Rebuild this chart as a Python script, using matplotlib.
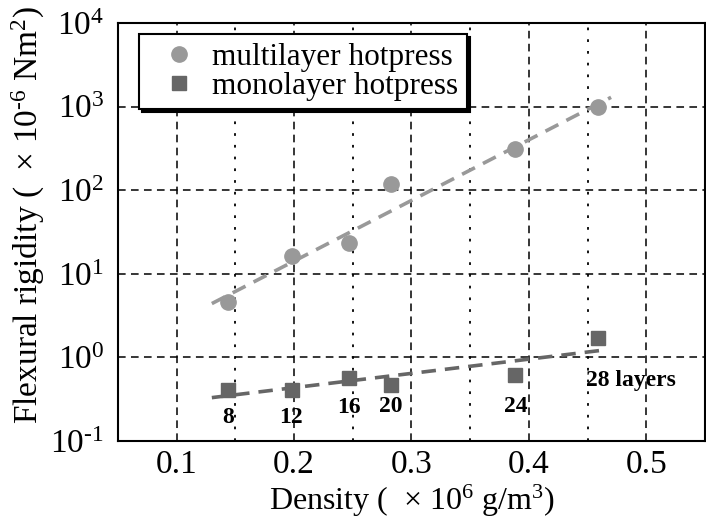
import numpy as np
import matplotlib.pyplot as plt
from matplotlib.ticker import MultipleLocator, NullLocator, LogLocator, FuncFormatter

plt.rcParams['font.family'] = ['Liberation Serif', 'DejaVu Serif']
plt.rcParams['mathtext.fontset'] = 'custom'
plt.rcParams['mathtext.rm'] = 'Liberation Serif'
plt.rcParams['mathtext.it'] = 'Liberation Serif:italic'
plt.rcParams['mathtext.bf'] = 'Liberation Serif:bold'

# density (x 10^6 g/m^3)
density = [0.144, 0.198, 0.247, 0.283, 0.388, 0.459]
# flexural rigidity (x 10^-6 Nm^2)
multi = [4.6, 16.5, 23.5, 120, 315, 1000]
mono = [0.41, 0.41, 0.57, 0.47, 0.61, 1.7]
layers = ['8', '12', '16', '20', '24', '28 layers']
label_x = [0.144, 0.197, 0.247, 0.282, 0.389, 0.487]
label_y = [0.19, 0.19, 0.25, 0.26, 0.26, 0.53]

# fitted trend lines (end points)
fit_x = [0.13, 0.47]
fit_multi = [4.4, 1290]
fit_mono_x = [0.13, 0.461]
fit_mono = [0.33, 1.21]


def log_fmt(v, pos):
    e = int(round(np.log10(v)))
    s = str(e).replace('-', r'\text{-}')
    return r'$10^{%s}$' % s


fig = plt.figure(figsize=(7.06, 5.21), dpi=100)
ax = fig.add_axes([0.167, 0.1536, 0.8316, 0.8023])
ax.set_yscale('log')
ax.set_xlim(0.05, 0.55)
ax.set_ylim(0.1, 1e4)

ax.xaxis.set_major_locator(MultipleLocator(0.1))
ax.xaxis.set_minor_locator(MultipleLocator(0.05))
ax.yaxis.set_major_locator(LogLocator(base=10, numticks=10))
ax.yaxis.set_minor_locator(NullLocator())
ax.yaxis.set_major_formatter(FuncFormatter(log_fmt))

ax.grid(which='major', color='black', linestyle=(0, (5, 3.5)), linewidth=1.1)
ax.grid(which='minor', axis='x', color='black', linestyle=(0, (1.5, 5)), linewidth=1.3)
ax.set_axisbelow(True)

ax.plot(fit_x, fit_multi, color='#999999', linestyle=(0, (4, 2.5)), linewidth=2.6, zorder=3)
ax.plot(fit_mono_x, fit_mono, color='#666666', linestyle=(0, (4, 2.5)), linewidth=2.6, zorder=3)
ax.plot(density, multi, 'o', color='#999999', markersize=11, zorder=4,
        label='multilayer hotpress')
ax.plot(density, mono, 's', color='#666666', markersize=10, zorder=4,
        label='monolayer hotpress')

for t, xx, yy in zip(layers, label_x, label_y):
    ax.text(xx, yy, t, ha='center', va='center', fontsize=17, fontweight='bold', zorder=5)

for s in ax.spines.values():
    s.set_linewidth(1.5)
ax.tick_params(which='both', length=0, labelsize=24)
ax.tick_params(axis='y', pad=10)
ax.tick_params(axis='x', pad=6)

ax.set_xlabel('Density (  \u00d7 10$^{6}$ g/m$^{3}$)', fontsize=23)
ax.xaxis.set_label_coords(0.5, -0.1)
ax.set_ylabel('Flexural rigidity (  \u00d7 10$^{\\text{-}6}$ Nm$^{2}$)', fontsize=24)
ax.yaxis.set_label_coords(-0.12, 0.54)

leg = ax.legend(loc='upper left', bbox_to_anchor=(0.036, 0.974), borderaxespad=0,
                fontsize=22.5, fancybox=False, framealpha=1, edgecolor='black',
                shadow={'color': 'black', 'alpha': 1}, handletextpad=0.05,
                borderpad=0.28, labelspacing=0.0, handlelength=2.0)
leg.get_frame().set_linewidth(1.5)

fig.savefig('out.png', dpi=100)
